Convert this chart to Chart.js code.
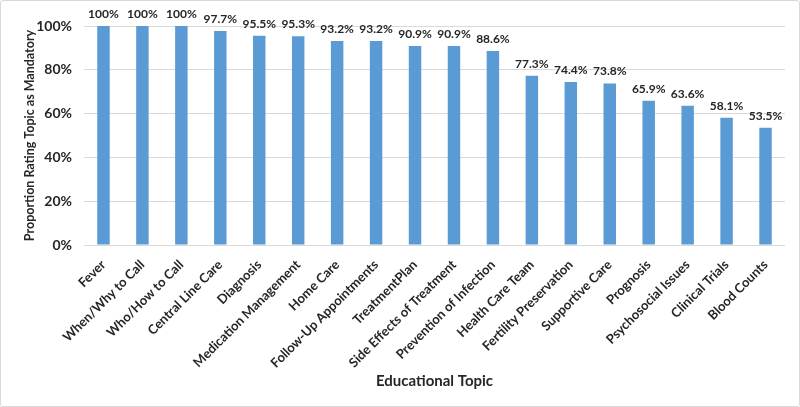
<!DOCTYPE html>
<html>
<head>
<meta charset="utf-8">
<script src="https://cdn.jsdelivr.net/npm/chart.js@4/dist/chart.umd.min.js"></script>
<style>
html,body{margin:0;padding:0;background:#fff;}
#wrap{position:relative;width:798px;height:405px;border:1px solid #d9d9d9;border-radius:3px;}
canvas{display:block;}
</style>
</head>
<body>
<div id="wrap"><canvas id="c" width="798" height="405"></canvas></div>
<script>
const categories = ["Fever","When/Why to Call","Who/How to Call","Central Line Care","Diagnosis","Medication Management","Home Care","Follow-Up Appointments","TreatmentPlan","Side Effects of Treatment","Prevention of Infection","Health Care Team","Fertility Preservation","Supportive Care","Prognosis","Psychosocial Issues","Clinical Trials","Blood Counts"];
const values = [100,100,100,97.7,95.5,95.3,93.2,93.2,90.9,90.9,88.6,77.3,74.4,73.8,65.9,63.6,58.1,53.5];
const valueLabels = ["100%","100%","100%","97.7%","95.5%","95.3%","93.2%","93.2%","90.9%","90.9%","88.6%","77.3%","74.4%","73.8%","65.9%","63.6%","58.1%","53.5%"];
const yTicks = [0,20,40,60,80,100];

const FONT = "Lato, 'Liberation Sans', sans-serif";
const TXT = "#262626";

const labelPlugin = {
  id: 'barLabels',
  afterDatasetsDraw(chart) {
    const ctx = chart.ctx;
    const meta = chart.getDatasetMeta(0);
    ctx.save();
    ctx.font = "bold 12px " + FONT;
    ctx.fillStyle = TXT;
    ctx.textAlign = 'center';
    ctx.textBaseline = 'bottom';
    meta.data.forEach((bar, i) => {
      ctx.fillText(valueLabels[i], bar.x, bar.y - 6);
    });
    ctx.restore();
  }
};

new Chart(document.getElementById('c'), {
  type: 'bar',
  data: {
    labels: categories,
    datasets: [{
      data: values,
      backgroundColor: '#5B9BD5',
      categoryPercentage: 1.0,
      barPercentage: 0.32
    }]
  },
  options: {
    responsive: false,
    animation: false,
    layout: { padding: { top: 25, right: 14, bottom: 14, left: 21 } },
    plugins: { legend: { display: false }, tooltip: { enabled: false } },
    scales: {
      x: {
        afterFit(scale) { scale.height = 147; },
        grid: { display: false, drawTicks: false },
        border: { display: false },
        ticks: {
          autoSkip: false, minRotation: 45, maxRotation: 45,
          color: TXT, font: { family: FONT, size: 13, weight: 'bold' }, padding: 12
        },
        title: { display: true, text: 'Educational Topic', color: TXT,
          font: { family: FONT, size: 15, weight: 'bold' }, padding: { top: 4, bottom: 2 } }
      },
      y: {
        min: 0, max: 100,
        afterBuildTicks(scale) { scale.ticks = yTicks.map(v => ({ value: v })); },
        afterFit(scale) { scale.width = 62; },
        grid: { color: '#d9d9d9', drawTicks: false },
        border: { display: false },
        ticks: {
          color: TXT, font: { family: FONT, size: 14, weight: 'bold' }, padding: 12,
          callback: v => v + '%'
        },
        title: { display: true, text: 'Proportion Rating Topic as Mandatory', color: TXT,
          font: { family: FONT, size: 12.5, weight: 'bold' }, padding: { top: 0, bottom: 4 } }
      }
    }
  },
  plugins: [labelPlugin]
});
</script>
</body>
</html>
